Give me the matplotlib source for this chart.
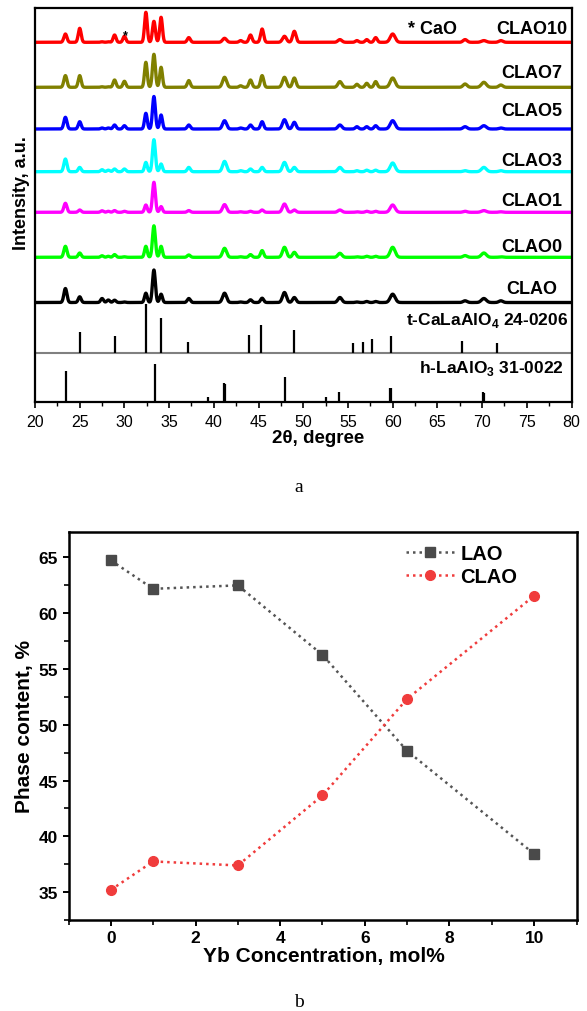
import numpy as np
import matplotlib
matplotlib.use("Agg")
import matplotlib.pyplot as plt
from matplotlib.ticker import MultipleLocator

plt.rcParams['font.family'] = ['Liberation Sans', 'DejaVu Sans']
plt.rcParams['mathtext.fontset'] = 'custom'
plt.rcParams['mathtext.rm'] = 'Liberation Sans'
plt.rcParams['mathtext.bf'] = 'Liberation Sans:bold'

# ---------------- Panel a data: XRD peak list (2theta) and read-off peak heights ----------------
peak_pos = [23.4, 25.0, 27.5, 28.2, 28.9, 30.0, 32.4, 33.3, 34.1, 37.2, 41.2, 43.0,
            44.1, 45.4, 47.9, 49.0, 54.1, 56.0, 57.1, 58.1, 60.0, 68.1, 70.2, 72.1]
peak_width = [0.17, 0.16, 0.16, 0.16, 0.16, 0.16, 0.15, 0.16, 0.15, 0.17, 0.22, 0.17,
              0.17, 0.17, 0.22, 0.19, 0.22, 0.17, 0.17, 0.17, 0.27, 0.22, 0.27, 0.22]

samples = ['CLAO10', 'CLAO7', 'CLAO5', 'CLAO3', 'CLAO1', 'CLAO0', 'CLAO']
colors = ['#ff0000', '#808000', '#0000ff', '#00ffff', '#ff00ff', '#00ff00', '#000000']
heights = {
    'CLAO10': [8.3, 14, 0.5, 0.5, 7.3, 6, 30, 21, 25, 4.7, 4, 1.7, 7.3, 13.3, 6, 11,
               2.7, 1.7, 2.7, 4.7, 8.3, 2.7, 1.7, 1.7],
    'CLAO7': [11.7, 11.7, 0.5, 0.5, 7.3, 6, 25, 33, 20, 6.7, 10, 1.5, 7.3, 11.7, 10, 9.3,
              5.7, 3, 4, 5.7, 9.3, 3.3, 5, 2.3],
    'CLAO5': [11.7, 7.3, 1, 1, 4, 3.3, 15.7, 32.5, 14, 4, 8.3, 1, 4, 7.3, 9.3, 6.7,
              4, 2.3, 2.3, 3.3, 8.3, 2.3, 3.3, 1],
    'CLAO3': [12.7, 4.3, 2, 1.5, 2.7, 2.7, 9.3, 32, 7.7, 4.3, 10.3, 1, 2.7, 4.3, 9.3, 4.3,
              4.3, 1, 1.5, 1.5, 8.7, 1, 4.3, 1],
    'CLAO1': [9, 2.3, 1.5, 1, 1.7, 1, 7.3, 30, 5.7, 1.7, 7.7, 0.5, 1, 2.3, 8.3, 2.3,
              2.3, 0.5, 1, 1, 7.3, 1, 1.7, 0.5],
    'CLAO0': [11, 4.3, 1.5, 1, 2.7, 0.5, 11, 31.5, 11, 2.3, 9, 0.5, 2.7, 6.7, 10, 5,
              4, 0.5, 1, 1, 10, 1.7, 4.3, 0.5],
    'CLAO': [14, 5.7, 4, 2.5, 2.3, 0.5, 9.3, 32.5, 8.3, 4, 9.3, 0.5, 2.7, 4.3, 10, 5,
             5, 0.5, 1, 1, 8.3, 1.7, 4, 1.7],
}
offsets = [360, 315, 273.3, 230.6, 190, 145, 99.8]
label_y = [374.3, 329.3, 291.3, 241.3, 201.3, 155.3, 113.3]

# reference patterns
t_pos = [25.02, 29.0, 32.45, 34.09, 37.14, 43.94, 45.28, 48.92, 55.61, 56.65, 57.73,
         59.85, 67.77, 71.67]
t_int = [21.3, 16.7, 49, 35, 11.3, 18.3, 28.3, 23, 9.7, 10.7, 14, 17.3, 12.3, 10]
h_pos = [23.46, 33.38, 39.4, 41.15, 41.27, 47.96, 52.53, 54.05, 59.68, 59.8, 70.13, 70.25]
h_int = [31, 38.3, 5.7, 19, 18, 25, 5.7, 10.7, 14.3, 14.3, 10, 9.5]
t_base = 49.3
h_base = 0.0

# ---------------- Panel b data ----------------
yb = [0, 1, 3, 5, 7, 10]
lao = [64.73, 62.18, 62.49, 56.26, 47.65, 38.42]
clao = [35.2, 37.75, 37.39, 43.66, 52.32, 61.56]

W, H = 587, 1012
fig = plt.figure(figsize=(W / 100, H / 100), dpi=100)

# ================= Panel a =================
ax1 = fig.add_axes([35 / W, 1 - 403.3 / H, 536.5 / W, 394.8 / H])
ax1.set_xlim(20, 80)
ax1.set_ylim(0, 394.8)

x = np.linspace(20, 80, 3001)
for name, col, off in zip(samples, colors, offsets):
    y = np.full_like(x, off)
    for p, w, h in zip(peak_pos, peak_width, heights[name]):
        y += h * np.exp(-0.5 * ((x - p) / w) ** 2)
    ax1.plot(x, y, color=col, lw=2.4, solid_joinstyle='round')

for name, ly in zip(samples, label_y):
    ax1.text(75.6, ly, name, ha='center', va='center', fontsize=13, fontweight='bold')

ax1.text(64.4, 374.3, '* CaO', ha='center', va='center', fontsize=13, fontweight='bold')
ax1.text(30.1, 367.5, '*', ha='center', va='center', fontsize=9, fontweight='bold')

ax1.axhline(t_base, color='#808080', lw=1.5)
ax1.vlines(t_pos, t_base, np.array(t_int) + t_base, color='black', lw=1.6)
ax1.vlines(h_pos, h_base, np.array(h_int) + h_base, color='black', lw=1.6)
ax1.text(79.6, 82.3, r't-CaLaAlO$_\mathbf{4}$ 24-0206', ha='right', va='center',
         fontsize=12.5, fontweight='bold')
ax1.text(79.2, 34.3, r'h-LaAlO$_\mathbf{3}$ 31-0022', ha='right', va='center',
         fontsize=12.5, fontweight='bold')

ax1.xaxis.set_major_locator(MultipleLocator(5))
ax1.xaxis.set_minor_locator(MultipleLocator(2.5))
ax1.tick_params(axis='x', which='major', direction='out', length=4.5, width=1.2,
                labelsize=11.5, pad=4)
ax1.tick_params(axis='x', which='minor', direction='out', length=3, width=1.0)
ax1.tick_params(axis='y', left=False, labelleft=False)
for s in ax1.spines.values():
    s.set_linewidth(1.6)
ax1.set_xlabel('2θ, degree', fontsize=13.5, fontweight='bold')
ax1.xaxis.label.set_va('center')
ax1.xaxis.set_label_coords((318.6 - 35) / 536.5, (403.3 - 439) / 394.8)
ax1.set_ylabel('Intensity, a.u.', fontsize=13, fontweight='bold')
ax1.yaxis.label.set_va('center')
ax1.yaxis.set_label_coords((22 - 35) / 536.5, (403.3 - 193) / 394.8)

fig.text(299 / W, 1 - 488 / H, 'a', ha='center', va='center', fontsize=14,
         family='Liberation Serif')

# ================= Panel b =================
ax2 = fig.add_axes([68.5 / W, 1 - 921 / H, 508 / W, 388.3 / H])
ax2.set_xlim(-1, 11)
ax2.set_ylim(32.5, 67.3)
ax2.plot(yb, lao, color='#555555', ls=(0, (1, 1.6)), lw=1.8, marker='s', ms=6.5,
         mfc='#4a4a4a', mec='#4a4a4a', label='LAO')
ax2.plot(yb, clao, color='#f03c3c', ls=(0, (1, 1.6)), lw=1.8, marker='o', ms=7,
         mfc='#f03c3c', mec='#f03c3c', label='CLAO')

ax2.xaxis.set_major_locator(MultipleLocator(2))
ax2.xaxis.set_minor_locator(MultipleLocator(1))
ax2.yaxis.set_major_locator(MultipleLocator(5))
ax2.yaxis.set_minor_locator(MultipleLocator(2.5))
ax2.tick_params(which='major', direction='out', length=4.5, width=1.4, labelsize=12.5, pad=3)
ax2.tick_params(which='minor', direction='out', length=3.5, width=1.2)
for lab in ax2.get_xticklabels() + ax2.get_yticklabels():
    lab.set_fontweight('bold')
for s in ax2.spines.values():
    s.set_linewidth(1.8)

ax2.set_xlabel('Yb Concentration, mol%', fontsize=15, fontweight='bold')
ax2.xaxis.label.set_va('center')
ax2.xaxis.set_label_coords(0.503, (921 - 956.7) / 388.3)
ax2.set_ylabel('Phase content, %', fontsize=15, fontweight='bold')
ax2.yaxis.label.set_va('center')
ax2.yaxis.set_label_coords((25 - 68.5) / 508, 0.5)

leg = ax2.legend(loc='upper left', bbox_to_anchor=((406 - 68.5) / 508, (921 - 545) / 388.3),
                 frameon=False, prop={'weight': 'bold', 'size': 14.5},
                 handlelength=2.4, handletextpad=0.3, labelspacing=0.2,
                 borderpad=0, borderaxespad=0)

fig.text(299 / W, 1 - 1003 / H, 'b', ha='center', va='center', fontsize=14,
         family='Liberation Serif')

fig.savefig('out.png', dpi=100)
